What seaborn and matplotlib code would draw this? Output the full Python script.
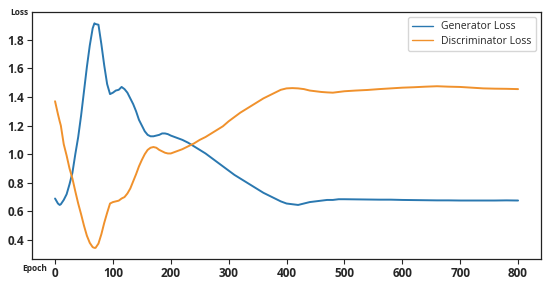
import matplotlib
matplotlib.use("Agg")
import matplotlib.pyplot as plt
import seaborn as sns
import pandas as pd

epochs = [0, 5, 8, 10, 15, 20, 25, 30, 35, 40, 45, 50, 55, 60, 65, 68, 70, 75, 80, 85, 90, 95,
          100, 105, 110, 115, 120, 125, 130, 135, 140, 145, 150, 155, 160, 165, 170, 175, 180,
          185, 190, 195, 200, 210, 220, 230, 240, 250, 260, 270, 280, 290, 300, 310, 320, 330,
          340, 350, 360, 370, 380, 390, 400, 410, 420, 430, 440, 450, 460, 470, 480, 490, 500,
          520, 540, 560, 580, 600, 620, 640, 660, 680, 700, 720, 740, 760, 780, 800]

generator_loss = [0.69, 0.655, 0.645, 0.65, 0.68, 0.72, 0.79, 0.87, 1.00, 1.12, 1.27, 1.44, 1.61,
                  1.76, 1.88, 1.915, 1.91, 1.905, 1.77, 1.62, 1.49, 1.42, 1.43, 1.445, 1.45, 1.47,
                  1.455, 1.43, 1.39, 1.35, 1.30, 1.24, 1.20, 1.16, 1.135, 1.125, 1.125, 1.13, 1.135,
                  1.145, 1.145, 1.14, 1.13, 1.115, 1.10, 1.08, 1.055, 1.03, 1.005, 0.975, 0.945,
                  0.915, 0.885, 0.855, 0.83, 0.805, 0.78, 0.755, 0.73, 0.71, 0.69, 0.67, 0.655,
                  0.65, 0.645, 0.655, 0.665, 0.67, 0.675, 0.68, 0.68, 0.685, 0.685, 0.684, 0.683,
                  0.682, 0.682, 0.68, 0.679, 0.678, 0.677, 0.677, 0.676, 0.676, 0.676, 0.676,
                  0.677, 0.676]

discriminator_loss = [1.37, 1.28, 1.23, 1.20, 1.07, 0.99, 0.90, 0.83, 0.74, 0.655, 0.58, 0.50,
                      0.43, 0.38, 0.35, 0.345, 0.345, 0.375, 0.44, 0.52, 0.59, 0.655, 0.665,
                      0.67, 0.675, 0.69, 0.70, 0.725, 0.76, 0.81, 0.86, 0.915, 0.96, 1.00, 1.03,
                      1.045, 1.05, 1.045, 1.03, 1.02, 1.01, 1.005, 1.005, 1.02, 1.035, 1.055,
                      1.075, 1.10, 1.12, 1.145, 1.17, 1.195, 1.23, 1.26, 1.29, 1.315, 1.34,
                      1.365, 1.39, 1.41, 1.43, 1.45, 1.46, 1.462, 1.46, 1.455, 1.445, 1.44,
                      1.435, 1.432, 1.43, 1.435, 1.44, 1.445, 1.449, 1.455, 1.46, 1.465, 1.468,
                      1.472, 1.475, 1.472, 1.47, 1.465, 1.46, 1.458, 1.457, 1.455]

series_names = ["Generator Loss", "Discriminator Loss"]

df = pd.concat([
    pd.DataFrame({"Epoch": epochs, "Loss": generator_loss, "Series": series_names[0]}),
    pd.DataFrame({"Epoch": epochs, "Loss": discriminator_loss, "Series": series_names[1]}),
])

sns.set_style("ticks")
plt.rcParams["font.family"] = ["Open Sans", "DejaVu Sans"]

fig = plt.figure(figsize=(5.5, 2.81), dpi=100)
ax = fig.add_axes([0.058, 0.078, 0.926, 0.879])

sns.lineplot(data=df, x="Epoch", y="Loss", hue="Series", ax=ax,
             palette=["#2a78b0", "#f0912c"], linewidth=1.4, sort=False)

ax.set_xlabel("")
ax.set_ylabel("")
ax.set_xticks([0, 100, 200, 300, 400, 500, 600, 700, 800])
ax.set_yticks([0.4, 0.6, 0.8, 1.0, 1.2, 1.4, 1.6, 1.8])
for lab in ax.get_xticklabels() + ax.get_yticklabels():
    lab.set_fontweight("bold")
    lab.set_fontsize(8.5)
ax.tick_params(length=3.5, width=0.8, pad=2)
for s in ax.spines.values():
    s.set_visible(True)
    s.set_color("#222222")
    s.set_linewidth(0.9)

fig.text(0.018, 0.955, "Loss", fontsize=6, fontweight="bold", va="center", ha="left")
fig.text(0.04, 0.045, "Epoch", fontsize=6, fontweight="bold", va="center", ha="left")

leg = ax.legend(loc="upper right", fontsize=7.5, frameon=True, borderpad=0.4,
                handlelength=2.0, labelspacing=0.3)
leg.get_frame().set_edgecolor("#cccccc")
for h in leg.get_lines():
    h.set_linewidth(1.0)

fig.savefig("out.png", dpi=100)
